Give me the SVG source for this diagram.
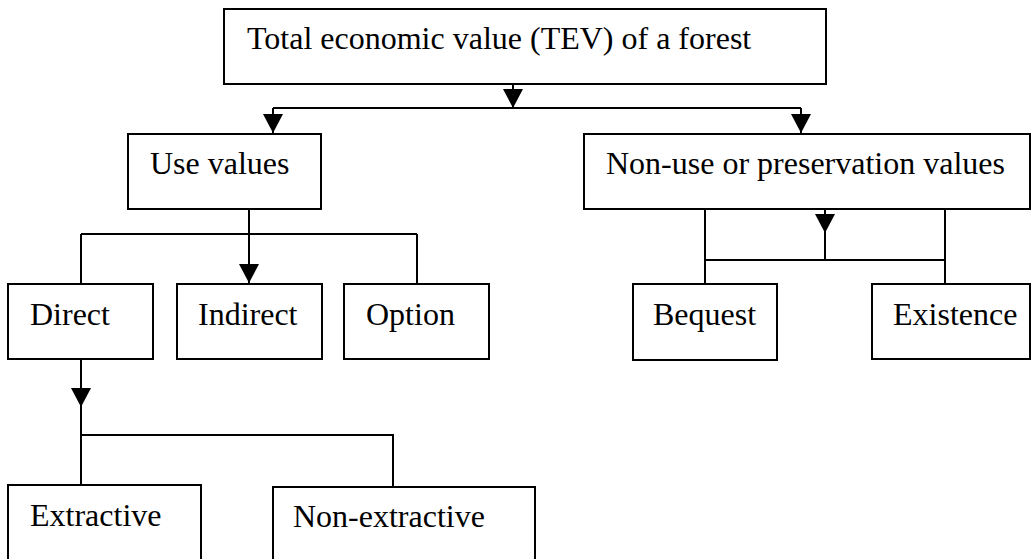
<svg xmlns="http://www.w3.org/2000/svg" xmlns:xlink="http://www.w3.org/1999/xlink" width="1032" height="559" viewBox="0 0 1032 559">
  <style>
    .box { fill: #ffffff; stroke: #000000; stroke-width: 2; }
    .lbl { font-family: "Liberation Serif", "Times New Roman", serif; font-size: 32px; fill: #000000; }
    .wire { fill: none; stroke: #000000; stroke-width: 2; }
  </style>
  <defs>
    <!-- downward arrowhead, tip at the origin -->
    <path id="ah" d="M-10,-19 L10,-19 L0,0 Z" fill="#000000"/>
  </defs>
  <rect width="1032" height="559" fill="#ffffff"/>

  <g id="connectors">
    <!-- TEV to use / non-use -->
    <path class="wire" d="M513,85 V108 M273,108 H801 M273,108 V133 M801,108 V133"/>
    <use xlink:href="#ah" x="513" y="108"/>
    <use xlink:href="#ah" x="273" y="133"/>
    <use xlink:href="#ah" x="801" y="133"/>
    <!-- use values to direct / indirect / option -->
    <path class="wire" d="M249,209 V283 M81,234 H417 M81,234 V284 M417,234 V284"/>
    <use xlink:href="#ah" x="249" y="283"/>
    <!-- direct to extractive / non-extractive -->
    <path class="wire" d="M81,359 V485 M81,435 H393 V487"/>
    <use xlink:href="#ah" x="81" y="407"/>
    <!-- non-use to bequest / existence -->
    <path class="wire" d="M705,209 V284 M945,209 V284 M705,260 H945 M825,209 V260"/>
    <use xlink:href="#ah" x="825" y="233"/>
  </g>

  <g id="tev">
    <rect class="box" x="224" y="9" width="602" height="75"/>
    <text class="lbl" x="247" y="49">Total economic value (TEV) of a forest</text>
  </g>
  <g id="use-values">
    <rect class="box" x="128" y="134" width="193" height="75"/>
    <text class="lbl" x="150" y="174">Use values</text>
  </g>
  <g id="non-use-values">
    <rect class="box" x="584" y="134" width="446" height="75"/>
    <text class="lbl" x="606" y="174">Non-use or preservation values</text>
  </g>
  <g id="direct">
    <rect class="box" x="8" y="284" width="145" height="75"/>
    <text class="lbl" x="30" y="325">Direct</text>
  </g>
  <g id="indirect">
    <rect class="box" x="177" y="284" width="145" height="75"/>
    <text class="lbl" x="198" y="325">Indirect</text>
  </g>
  <g id="option">
    <rect class="box" x="344" y="284" width="145" height="75"/>
    <text class="lbl" x="366" y="325">Option</text>
  </g>
  <g id="bequest">
    <rect class="box" x="633" y="284" width="144" height="76"/>
    <text class="lbl" x="653" y="325">Bequest</text>
  </g>
  <g id="existence">
    <rect class="box" x="872" y="284" width="158" height="75"/>
    <text class="lbl" x="893" y="325">Existence</text>
  </g>
  <g id="extractive">
    <rect class="box" x="8" y="485" width="193" height="90"/>
    <text class="lbl" x="30" y="526">Extractive</text>
  </g>
  <g id="non-extractive">
    <rect class="box" x="273" y="487" width="262" height="90"/>
    <text class="lbl" x="293" y="527">Non-extractive</text>
  </g>
</svg>
